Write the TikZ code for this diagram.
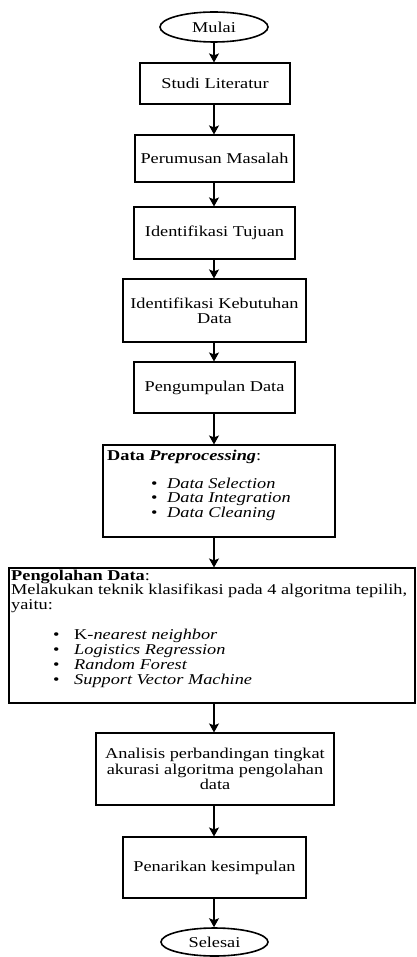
\documentclass[tikz,border=0pt]{standalone}
\usepackage{fontspec}
\setmainfont{Liberation Serif}[FakeStretch=1.22]
\usetikzlibrary{arrows.meta,shapes.geometric}
\begin{document}
\begin{tikzpicture}[x=1pt,y=-1pt,
  every node/.style={font=\fontsize{15pt}{15pt}\selectfont, text=black},
  pbox/.style={draw, line width=1.1pt, inner sep=0pt, align=center},
  term/.style={draw, ellipse, line width=1.6pt, inner sep=0pt},
  ln/.style={anchor=base west, inner sep=0pt},
  arr/.style={line width=1.2pt, -{Stealth[length=9pt,width=10pt,inset=2pt]}}]
\useasboundingbox (0,0) rectangle (416,957);
\coordinate (col) at (214,0);

\node[term, minimum width=108pt, minimum height=30pt] (start) at (214,27) {Mulai};
\node[pbox, minimum width=150pt, minimum height=41pt] (s1) at (215,83.5) {Studi Literatur};
\node[pbox, minimum width=159pt, minimum height=47pt] (s2) at (214.5,158.5) {Perumusan Masalah};
\node[pbox, minimum width=161pt, minimum height=52pt] (s3) at (214.5,233) {Identifikasi Tujuan};
\node[pbox, minimum width=183pt, minimum height=63pt] (s4) at (214.5,310.5) {Identifikasi Kebutuhan\\Data};
\node[pbox, minimum width=161pt, minimum height=51pt] (s5) at (214.5,387.5) {Pengumpulan Data};
\node[pbox, minimum width=232pt, minimum height=92pt] (s6) at (219,491) {};
\node[pbox, minimum width=406pt, minimum height=135pt] (s7) at (212,635.5) {};
\node[pbox, minimum width=238pt, minimum height=72pt, font=\fontsize{15pt}{15.5pt}\selectfont] (s8) at (215,769) {Analisis perbandingan tingkat\\akurasi algoritma pengolahan\\data};
\node[pbox, minimum width=183pt, minimum height=61pt] (s9) at (214.5,867.5) {Penarikan kesimpulan};
\node[term, minimum width=107pt, minimum height=28pt] (stop) at (214.5,942) {Selesai};

% Data preprocessing contents
\node[ln] (p0) at (107,460) {\textbf{Data \textit{Preprocessing}}:};
\node[ln] (p1) at (151,488) {\makebox[16pt][l]{\textbullet}\textit{Data Selection}};
\node[ln] (p2) at (151,502.5) {\makebox[16pt][l]{\textbullet}\textit{Data Integration}};
\node[ln] (p3) at (151,517) {\makebox[16pt][l]{\textbullet}\textit{Data Cleaning}};

% Pengolahan data contents
\node[ln] (q0) at (11,580) {\textbf{Pengolahan Data}:};
\node[ln] (q1) at (11,594.8) {Melakukan teknik klasifikasi pada 4 algoritma tepilih,};
\node[ln] (q2) at (11,609.6) {yaitu:};
\node[ln] (q3) at (53,639) {\makebox[21pt][l]{\textbullet}K-\textit{nearest neighbor}};
\node[ln] (q4) at (53,654) {\makebox[21pt][l]{\textbullet}\textit{Logistics Regression}};
\node[ln] (q5) at (53,669) {\makebox[21pt][l]{\textbullet}\textit{Random Forest}};
\node[ln] (q6) at (53,684) {\makebox[21pt][l]{\textbullet}\textit{Support Vector Machine}};

\draw[arr] (start.south -| col) -- (s1.north -| col);
\draw[arr] (s1.south -| col) -- (s2.north -| col);
\draw[arr] (s2.south -| col) -- (s3.north -| col);
\draw[arr] (s3.south -| col) -- (s4.north -| col);
\draw[arr] (s4.south -| col) -- (s5.north -| col);
\draw[arr] (s5.south -| col) -- (s6.north -| col);
\draw[arr] (s6.south -| col) -- (s7.north -| col);
\draw[arr] (s7.south -| col) -- (s8.north -| col);
\draw[arr] (s8.south -| col) -- (s9.north -| col);
\draw[arr] (s9.south -| col) -- (stop.north -| col);
\end{tikzpicture}
\end{document}
